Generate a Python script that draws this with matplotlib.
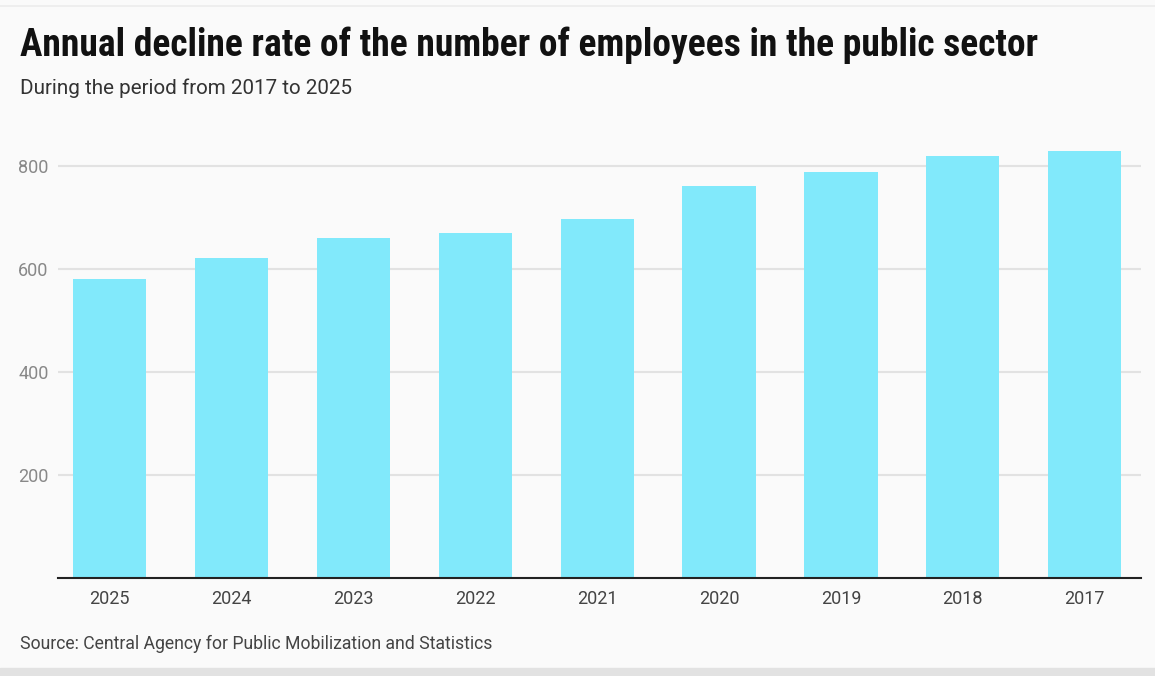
import matplotlib
matplotlib.use("Agg")
import matplotlib.pyplot as plt
from matplotlib import font_manager as fm

years = ["2025", "2024", "2023", "2022", "2021", "2020", "2019", "2018", "2017"]
employees = [581, 621, 660, 670, 696, 760, 787, 819, 829]
y_ticks = [200, 400, 600, 800]

title = "Annual decline rate of the number of employees in the public sector"
subtitle = "During the period from 2017 to 2025"
source = "Source: Central Agency for Public Mobilization and Statistics"

available = {f.name for f in fm.fontManager.ttflist}
title_font = next((f for f in ["Roboto Condensed", "Liberation Sans Narrow", "Roboto"] if f in available), "DejaVu Sans")

plt.rcParams["font.family"] = ["Roboto", "DejaVu Sans"]

W, H = 1155, 676
fig = plt.figure(figsize=(W / 100, H / 100), dpi=100)
fig.patch.set_facecolor("#fafafa")

# bottom shadow strip and top line
fig.add_artist(plt.Rectangle((0, 0), 1, 8 / H, transform=fig.transFigure, color="#e2e2e2", zorder=0))
fig.add_artist(plt.Line2D([0, 1], [1 - 6 / H, 1 - 6 / H], transform=fig.transFigure, color="#ececec", lw=1.2))

left, right = 57.7, 1140.7
bottom, top = 578, 140
ax = fig.add_axes([left / W, 1 - bottom / H, (right - left) / W, (bottom - top) / H])
ax.set_facecolor("#fafafa")

x = range(len(years))
ax.bar(x, employees, width=0.6, color="#81e9fb", zorder=2)

ax.set_xlim(-0.425, 8.459)
ax.set_ylim(0, (bottom - top) / 0.5154)
ax.set_xticks(list(x))
ax.set_xticklabels(years, fontsize=13, color="#444444")
ax.set_yticks(y_ticks)
ax.set_yticklabels([str(v) for v in y_ticks], fontsize=13, color="#888888")
ax.tick_params(axis="both", length=0)
ax.tick_params(axis="x", pad=9)
ax.tick_params(axis="y", pad=6.5)
for lab in ax.get_yticklabels():
    lab.set_horizontalalignment("right")

ax.grid(axis="y", color="#e2e2e2", lw=1.5, zorder=0)
for s in ["top", "right", "left"]:
    ax.spines[s].set_visible(False)
ax.spines["bottom"].set_color("#222222")
ax.spines["bottom"].set_linewidth(1.5)
ax.spines["bottom"].set_zorder(3)

fig.text(20 / W, 1 - 56 / H, title, fontsize=27.0, fontweight="bold", color="#111111",
         family=[title_font, "DejaVu Sans"], va="baseline", ha="left")
fig.text(20 / W, 1 - 94 / H, subtitle, fontsize=14.9, color="#333333", va="baseline", ha="left")
fig.text(20 / W, 1 - 649 / H, source, fontsize=12.7, color="#444444", va="baseline", ha="left")

fig.savefig("out.png", dpi=100, facecolor=fig.get_facecolor())
